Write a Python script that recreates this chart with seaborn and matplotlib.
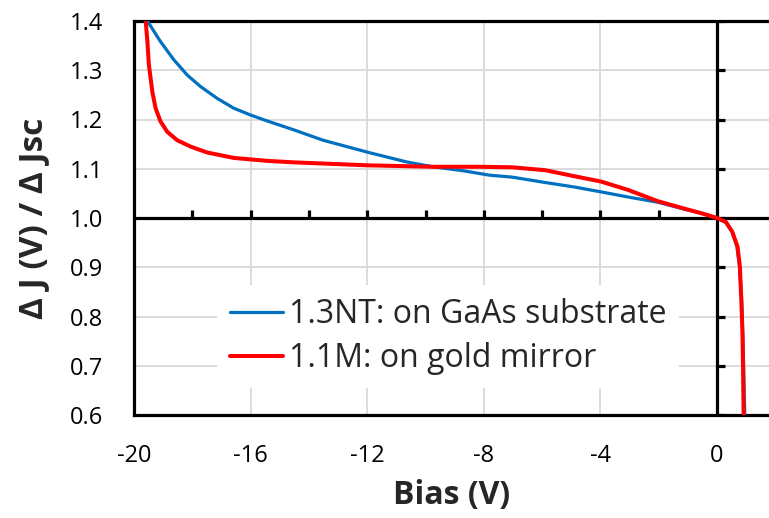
import numpy as np
import pandas as pd
import matplotlib
matplotlib.use("Agg")
import matplotlib.pyplot as plt
import seaborn as sns

# Curves (bias in V, normalised ΔJ)
bias_gaas = [-19.54, -19.09, -18.63, -18.17, -17.72, -17.15, -16.58, -16.0, -15.43, -14.52,
             -13.52, -11.95, -10.66, -9.75, -8.72, -7.81, -7.03, -5.89, -4.9, -3.98, -3.0,
             -2.03, -1.12, -0.5, 0.0, 0.3, 0.52, 0.68, 0.77, 0.84, 0.88, 0.91, 0.93, 0.95]
ratio_gaas = [1.400, 1.358, 1.321, 1.290, 1.267, 1.243, 1.223, 1.209, 1.197, 1.179,
              1.158, 1.133, 1.114, 1.104, 1.096, 1.087, 1.083, 1.072, 1.063, 1.053, 1.042,
              1.032, 1.018, 1.009, 1.000, 0.991, 0.972, 0.942, 0.902, 0.834, 0.766, 0.698,
              0.650, 0.600]

bias_gold = [-19.60, -19.54, -19.49, -19.37, -19.26, -19.09, -18.86, -18.52, -18.06, -17.49,
             -16.58, -15.43, -14.52, -12.0, -9.75, -8.17, -7.03, -5.89, -4.99, -3.98, -3.05,
             -2.03, -1.12, -0.5, 0.0, 0.30, 0.52, 0.70, 0.78, 0.83, 0.87, 0.89, 0.91]
ratio_gold = [1.400, 1.358, 1.311, 1.256, 1.223, 1.196, 1.175, 1.158, 1.145, 1.133,
              1.122, 1.116, 1.113, 1.107, 1.104, 1.104, 1.103, 1.097, 1.086, 1.074, 1.057,
              1.034, 1.019, 1.009, 1.000, 0.992, 0.972, 0.942, 0.902, 0.834, 0.766, 0.698,
              0.600]

series_names = ["1.3NT: on GaAs substrate", "1.1M: on gold mirror"]
series_colors = ["#0070C0", "#FF0000"]

x_ticks = [-20, -16, -12, -8, -4, 0]
y_ticks = [0.6, 0.7, 0.8, 0.9, 1.0, 1.1, 1.2, 1.3, 1.4]

sns.set_style("white")
plt.rcParams['font.family'] = ['Open Sans', 'DejaVu Sans']
plt.rcParams['axes.unicode_minus'] = False

fig = plt.figure(figsize=(7.69, 5.18), dpi=100)
ax = fig.add_axes([134 / 769, 1 - 415 / 518, 1 - 134 / 769, (415 - 21) / 518])

sns.lineplot(x=bias_gaas, y=ratio_gaas, ax=ax, color=series_colors[0], lw=2.3,
             sort=False, estimator=None, label=series_names[0], zorder=4)
sns.lineplot(x=bias_gold, y=ratio_gold, ax=ax, color=series_colors[1], lw=2.9,
             sort=False, estimator=None, label=series_names[1], zorder=5)

ax.set_xlim(-20, 1.78)
ax.set_ylim(0.6, 1.4)
ax.set_xticks(x_ticks)
ax.set_yticks(y_ticks)
ax.set_yticklabels([f"{v:.1f}" for v in y_ticks])
ax.tick_params(length=0, labelsize=17, colors="black")
ax.tick_params(axis="x", pad=21)
ax.tick_params(axis="y", pad=22)
ax.grid(True, color="#D9D9D9", lw=1.3)
ax.set_axisbelow(True)

for side in ["left", "top", "bottom"]:
    ax.spines[side].set_color("black")
    ax.spines[side].set_linewidth(2.3)
ax.spines["right"].set_visible(False)

# axes crossing at bias 0 and ratio 1.0, with small tick marks
ax.axhline(1.0, color="black", lw=2.3, zorder=3)
ax.axvline(0, color="black", lw=2.3, zorder=3)
minor_x = np.arange(-18, 0, 2)
ax.vlines(minor_x, 1.0, 1.017, color="black", lw=2.3, zorder=3)
ax.hlines(y_ticks, 0, 0.28, color="black", lw=2.3, zorder=3)

ax.set_xlabel("Bias (V)", fontsize=23, fontweight="bold", labelpad=8)
ax.set_ylabel("Δ J (V) / Δ Jsc", fontsize=24, fontweight="bold", labelpad=14)

leg = ax.legend(loc="upper left", bbox_to_anchor=(217 / 769, 1 - 285 / 518),
                bbox_transform=fig.transFigure, fontsize=23, frameon=True,
                handlelength=1.66, handletextpad=0.2, labelspacing=0.36,
                borderaxespad=0, borderpad=0.4)
leg.get_frame().set_edgecolor("none")
leg.get_frame().set_facecolor("white")
leg.get_frame().set_alpha(1)
leg.set_zorder(6)

fig.savefig("out.png", dpi=100)
